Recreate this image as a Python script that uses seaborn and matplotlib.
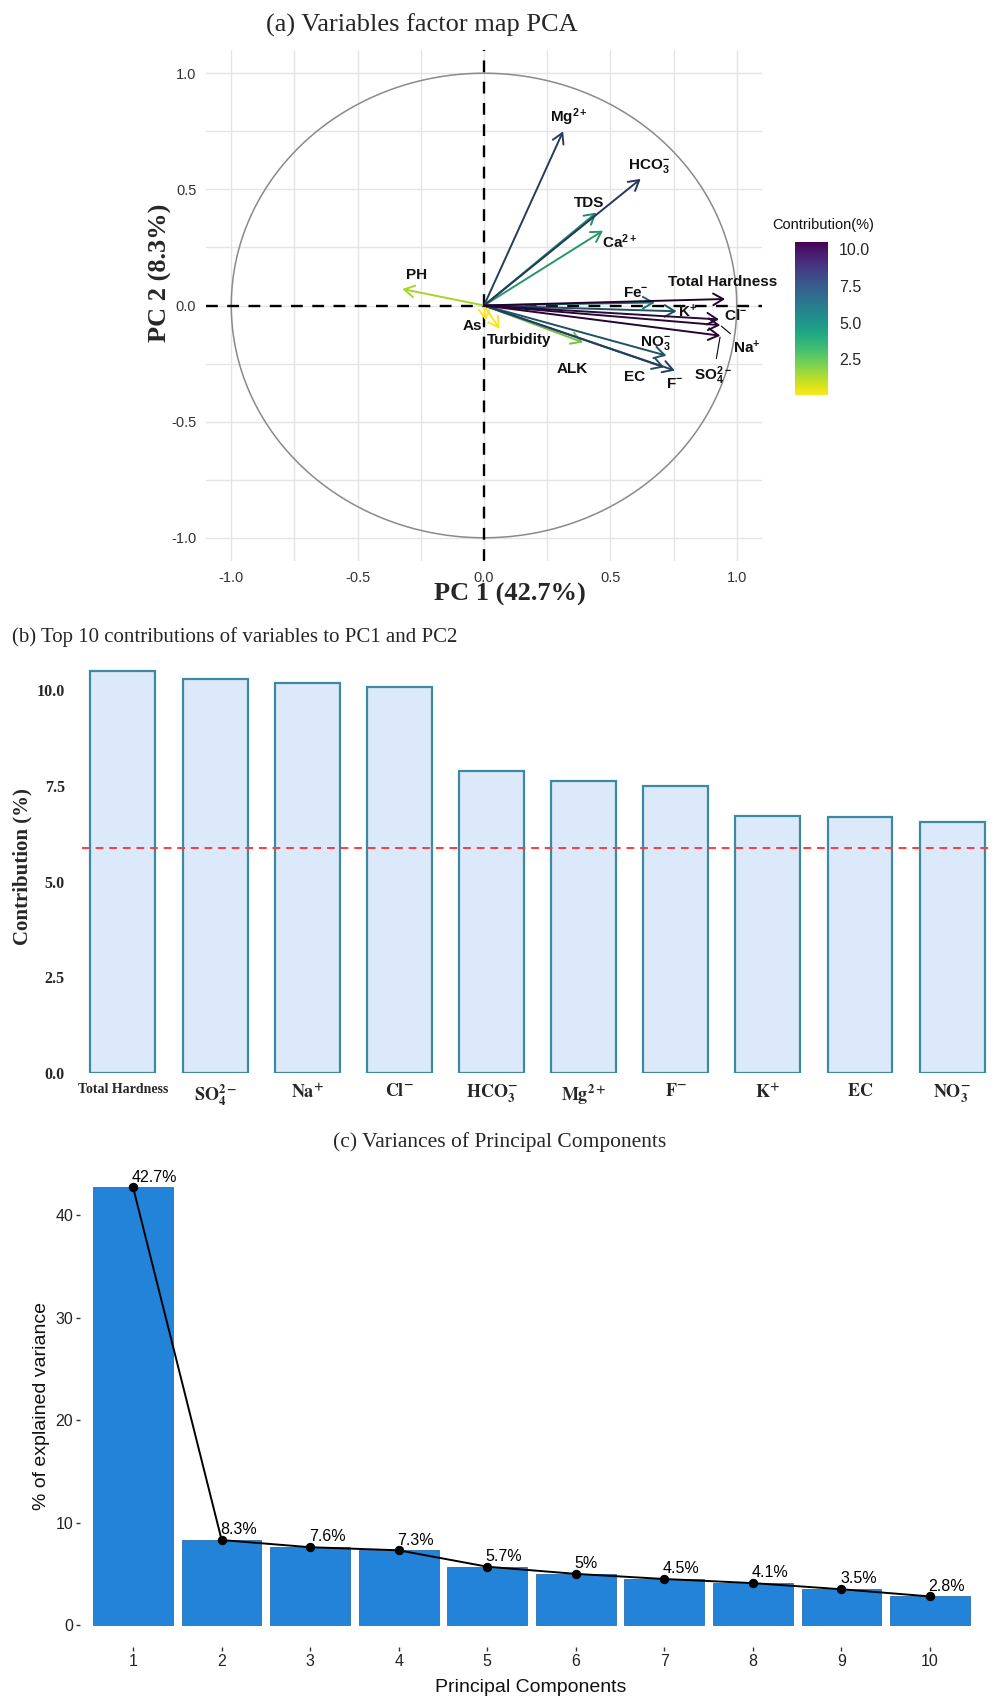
import numpy as np
import pandas as pd
import matplotlib
matplotlib.use("Agg")
import matplotlib.pyplot as plt
import seaborn as sns
from matplotlib.colors import Normalize, to_rgb
from matplotlib.cm import ScalarMappable

# ---------------------------------------------------------------------------
# Data
# ---------------------------------------------------------------------------
# Variable coordinates on the first two principal components
var_names = ["PH", "As", "Turbidity", "ALK", "Ca2+", "TDS", "Fe-", "K+", "NO3-",
             "EC", "F-", "Mg2+", "HCO3-", "Cl-", "Na+", "SO42-", "Total Hardness"]
pc1_coord = [-0.323, 0.007, 0.062, 0.392, 0.471, 0.445, 0.676, 0.762, 0.722,
             0.713, 0.755, 0.313, 0.620, 0.930, 0.935, 0.935, 0.954]
pc2_coord = [0.071, -0.065, -0.101, -0.159, 0.322, 0.400, 0.013, -0.025, -0.216,
             -0.266, -0.280, 0.750, 0.545, -0.060, -0.085, -0.130, 0.028]
# Contribution (%) of each variable to PC1 + PC2
contribution = [1.26, 0.05, 0.16, 2.06, 3.76, 4.13, 5.27, 6.71, 6.55,
                6.68, 7.49, 7.62, 7.88, 10.08, 10.18, 10.29, 10.50]

# Explained variance of the first ten components (%)
pc_index = [1, 2, 3, 4, 5, 6, 7, 8, 9, 10]
explained_var = [42.7, 8.3, 7.6, 7.3, 5.7, 5.0, 4.5, 4.1, 3.5, 2.8]

pc1_pct, pc2_pct = 42.7, 8.3

# Label text for the biplot (sans, bold) and for the bar chart (serif, bold)
biplot_text = {
    "PH": "PH", "As": "As", "Turbidity": "Turbidity", "ALK": "ALK",
    "Ca2+": r"Ca$^{2+}$", "TDS": "TDS", "Fe-": r"Fe$^{-}$", "K+": r"K$^{+}$",
    "NO3-": r"NO$_3^{-}$", "EC": "EC", "F-": r"F$^{-}$", "Mg2+": r"Mg$^{2+}$",
    "HCO3-": r"HCO$_3^{-}$", "Cl-": r"Cl$^{-}$", "Na+": r"Na$^{+}$",
    "SO42-": r"SO$_4^{2-}$", "Total Hardness": "Total Hardness",
}
bar_text = {
    "Total Hardness": "Total Hardness", "SO42-": r"$\mathbf{SO_4^{2-}}$",
    "Na+": r"$\mathbf{Na^{+}}$", "Cl-": r"$\mathbf{Cl^{-}}$",
    "HCO3-": r"$\mathbf{HCO_3^{-}}$", "Mg2+": r"$\mathbf{Mg^{2+}}$",
    "F-": r"$\mathbf{F^{-}}$", "K+": r"$\mathbf{K^{+}}$", "EC": r"$\mathbf{EC}$",
    "NO3-": r"$\mathbf{NO_3^{-}}$", "Fe-": r"$\mathbf{Fe^{-}}$",
}
# Label placement around each arrow tip (points), like a repel layout
label_offset = {
    "PH": (10, 10), "As": (-10, -4), "Turbidity": (14, -8), "ALK": (-8, -19),
    "Ca2+": (12, -8), "TDS": (-5, 7), "Fe-": (-14, 7), "K+": (8, 0),
    "NO3-": (-8, 9), "EC": (-21, -7), "F-": (0, -10), "Mg2+": (4, 10),
    "HCO3-": (6, 9), "Cl-": (12, 3), "Na+": (19, -16), "SO42-": (-5, -29),
    "Total Hardness": (-2, 12),
}
linked_labels = {"Na+", "SO42-"}

df = pd.DataFrame({"var": var_names, "pc1": pc1_coord, "pc2": pc2_coord,
                   "contrib": contribution})

# ---------------------------------------------------------------------------
# Style
# ---------------------------------------------------------------------------
sns.set_theme(style="white")
plt.rcParams["font.family"] = ["Liberation Sans", "DejaVu Sans"]
plt.rcParams["mathtext.fontset"] = "custom"
plt.rcParams["mathtext.rm"] = "Liberation Sans:bold"
plt.rcParams["mathtext.it"] = "Liberation Sans:bold"
plt.rcParams["mathtext.bf"] = "Liberation Sans:bold"

SERIF = ["Liberation Serif", "DejaVu Serif"]
W, H = 996, 1701
fig = plt.figure(figsize=(W / 100, H / 100), dpi=100)


def fx(px):
    return px / W


def fy(py):
    return 1 - py / H


# ---------------------------------------------------------------------------
# (a) Variables factor map
# ---------------------------------------------------------------------------
ax1 = fig.add_axes([fx(206), fy(561), fx(762) - fx(206), fy(50) - fy(561)])
ax1.set_xlim(-1.1, 1.1)
ax1.set_ylim(-1.1, 1.1)
major = [-1.0, -0.5, 0.0, 0.5, 1.0]
minor = [-0.75, -0.25, 0.25, 0.75]
ax1.set_xticks(major)
ax1.set_yticks(major)
ax1.set_xticks(minor, minor=True)
ax1.set_yticks(minor, minor=True)
ax1.set_xticklabels([f"{v:.1f}" for v in major])
ax1.set_yticklabels([f"{v:.1f}" for v in major])
ax1.grid(which="both", color="#e5e5e5", lw=1.0)
ax1.tick_params(which="both", length=0, labelsize=10.5, labelcolor="#333333")
ax1.tick_params(axis="x", pad=7)
ax1.tick_params(axis="y", pad=7)
for s in ax1.spines.values():
    s.set_visible(False)
ax1.set_axisbelow(True)

theta = np.linspace(0, 2 * np.pi, 400)
ax1.plot(np.cos(theta), np.sin(theta), color="#8a8a8a", lw=1.1, zorder=2)
ax1.axhline(0, color="black", ls=(0, (5, 4)), lw=1.7, zorder=2)
ax1.axvline(0, color="black", ls=(0, (5, 4)), lw=1.7, zorder=2)

cmap = plt.get_cmap("viridis_r")
norm = Normalize(vmin=min(contribution), vmax=max(contribution))


def arrow_colour(value):
    # thin strokes of the high-contribution arrows read darker than the scale
    rgb = np.array(to_rgb(cmap(norm(value))))
    return tuple(rgb * (1 - 0.45 * norm(value)))


for _, r in df.sort_values("contrib").iterrows():
    ax1.annotate("", xy=(r.pc1, r.pc2), xytext=(0, 0),
                 arrowprops=dict(arrowstyle="->,head_length=0.6,head_width=0.35",
                                 color=arrow_colour(r.contrib), lw=1.4,
                                 shrinkA=0, shrinkB=0), zorder=3)

for _, r in df.iterrows():
    off = label_offset[r["var"]]
    props = None
    if r["var"] in linked_labels:
        props = dict(arrowstyle="-", color="black", lw=0.8, shrinkA=2, shrinkB=1)
    ax1.annotate(biplot_text[r["var"]], xy=(r.pc1, r.pc2), xytext=off,
                 textcoords="offset points", ha="center", va="center",
                 fontsize=11, fontweight="bold", color="#111111",
                 math_fontfamily="custom", arrowprops=props, zorder=4)

fig.text(fx(422), fy(25), "(a) Variables factor map PCA", ha="center",
         va="center", fontsize=19, family=SERIF)
fig.text(fx(510), fy(594), f"PC 1 ({pc1_pct}%)", ha="center", va="center",
         fontsize=19, fontweight="bold", family=SERIF)
fig.text(fx(160), fy(273), f"PC 2 ({pc2_pct}%)", ha="center", va="center",
         rotation=90, fontsize=19, fontweight="bold", family=SERIF)

# Colour legend for contributions
cax = fig.add_axes([fx(795), fy(395), fx(828) - fx(795), fy(242) - fy(395)])
sm = ScalarMappable(norm=norm, cmap=cmap)
cb = fig.colorbar(sm, cax=cax, ticks=[2.5, 5.0, 7.5, 10.0])
cb.outline.set_visible(False)
cb.ax.set_yticklabels(["2.5", "5.0", "7.5", "10.0"])
cb.ax.tick_params(direction="in", length=5, width=1, color="white",
                  left=True, right=True, labelsize=11.5, pad=8)
fig.text(fx(772), fy(225), "Contribution(%)", ha="left", va="center",
         fontsize=10.5, color="#111111")

# ---------------------------------------------------------------------------
# (b) Top 10 contributions
# ---------------------------------------------------------------------------
top10 = df.sort_values("contrib", ascending=False).head(10).reset_index(drop=True)
ref_line = 100 / len(var_names)

ax2 = fig.add_axes([fx(81.5), fy(1073), fx(989) - fx(81.5), fy(659.4) - fy(1073)])
sns.barplot(data=top10, x="var", y="contrib", ax=ax2, color="#DCE9FA",
            saturation=1, edgecolor="#3C89A2", linewidth=1.6, width=0.705)
ax2.axhline(ref_line, color="#FF3B3B", ls=(0, (4, 3)), lw=1.4)
ax2.set_xlim(-0.45, 9.4)
ax2.set_ylim(0, 10.8)
ax2.set_yticks([0, 2.5, 5.0, 7.5, 10.0])
ax2.set_yticklabels(["0.0", "2.5", "5.0", "7.5", "10.0"])
for t in ax2.get_yticklabels():
    t.set_fontfamily(SERIF)
    t.set_fontweight("bold")
    t.set_fontsize(11.5)
ax2.set_xticks(range(len(top10)))
ax2.set_xticklabels([bar_text[v] for v in top10["var"]])
for t, v in zip(ax2.get_xticklabels(), top10["var"]):
    t.set_math_fontfamily("stix")
    t.set_fontfamily(SERIF)
    t.set_fontweight("bold")
    t.set_fontsize(10 if v == "Total Hardness" else 13)
ax2.tick_params(length=0)
ax2.tick_params(axis="y", pad=12)
ax2.tick_params(axis="x", pad=7)
ax2.set_xlabel("")
ax2.set_ylabel("")
for s in ax2.spines.values():
    s.set_visible(False)

fig.text(fx(12), fy(637), "(b) Top 10 contributions of variables to PC1 and PC2",
         ha="left", va="center", fontsize=15, family=SERIF)
fig.text(fx(22), fy(867), "Contribution (%)", ha="center", va="center",
         rotation=90, fontsize=15, fontweight="bold", family=SERIF)

# ---------------------------------------------------------------------------
# (c) Scree plot
# ---------------------------------------------------------------------------
ax3 = fig.add_axes([fx(80), fy(1647), fx(983) - fx(80), fy(1165.6) - fy(1647)])
scree = pd.DataFrame({"pc": pc_index, "var": explained_var})
sns.barplot(data=scree, x="pc", y="var", ax=ax3, color="#2383D8", saturation=1,
            width=0.9, edgecolor="#2B6FAE", linewidth=0.6)
sns.lineplot(x=np.arange(len(pc_index)), y=explained_var, ax=ax3, color="black",
             lw=1.4, marker="o", markersize=6, markeredgecolor="black")
for i, v in enumerate(explained_var):
    ax3.annotate(f"{v:g}%", xy=(i, v), xytext=(-1, 2), textcoords="offset points",
                 ha="left", va="bottom", fontsize=11.5, color="black")
span = max(explained_var) * 0.05
ax3.set_ylim(-span, max(explained_var) + span)
ax3.set_xlim(-0.6, len(pc_index) - 0.4)
ax3.set_yticks([0, 10, 20, 30, 40])
ax3.tick_params(axis="both", direction="out", length=3, width=1,
                color="#333333", labelsize=11.5, labelcolor="#222222", pad=2)
ax3.tick_params(axis="y", left=True)
ax3.tick_params(axis="x", bottom=True)
ax3.set_xlabel("")
ax3.set_ylabel("")
for s in ax3.spines.values():
    s.set_visible(False)

fig.text(fx(500), fy(1142), "(c) Variances of Principal Components", ha="center",
         va="center", fontsize=15.5, family=SERIF)
fig.text(fx(531), fy(1687), "Principal Components", ha="center", va="center",
         fontsize=14, color="#111111")
fig.text(fx(42), fy(1406), "% of explained variance", ha="center", va="center",
         rotation=90, fontsize=14, color="#111111")

fig.savefig("out.png", dpi=100, facecolor="white")
